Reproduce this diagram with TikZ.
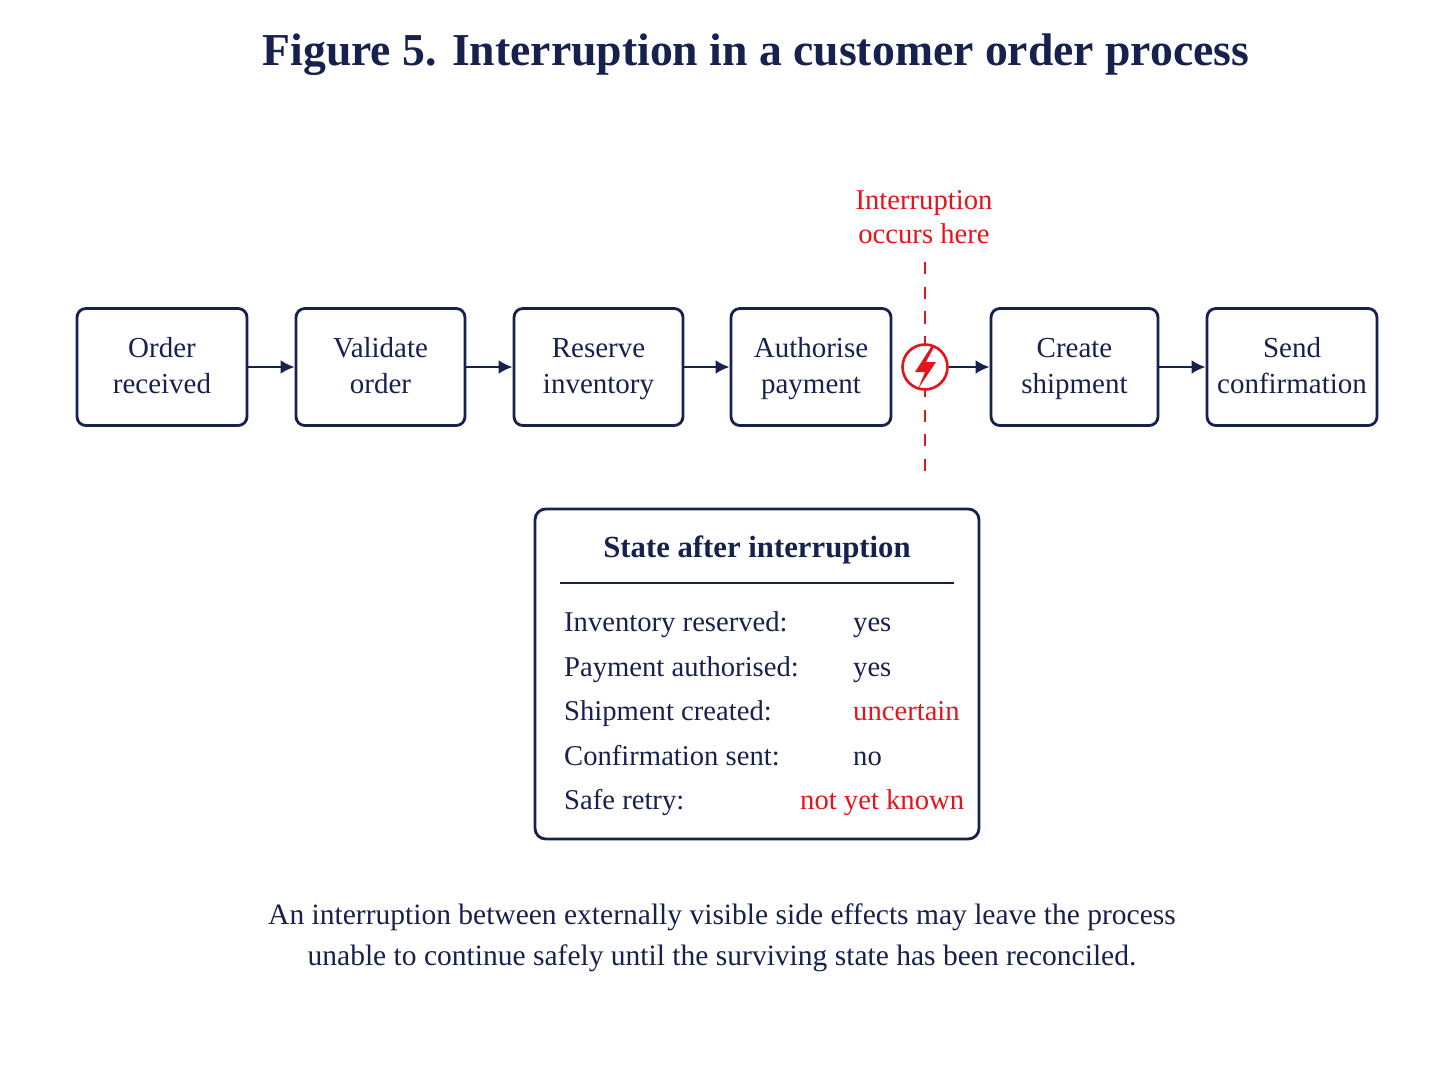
\documentclass[tikz,border=0pt]{standalone}
\usepackage{fontspec}
\setmainfont{Liberation Serif}
\usepackage{xcolor}
\usetikzlibrary{arrows.meta}
\definecolor{navy}{HTML}{16214D}
\definecolor{ired}{HTML}{E3141B}
\begin{document}
\begin{tikzpicture}[x=0.02cm,y=-0.02cm,
  stepbox/.style={draw=navy,line width=1.6pt,rounded corners=5pt,text=navy,align=center,font=\fontsize{16.5}{20.4}\selectfont,inner sep=0pt,minimum height=2.34cm,text depth=0.3ex},
  arr/.style={navy,line width=1.6pt,-{Latex[length=8pt,width=8pt]}},
  lbl/.style={anchor=base west,text=navy,font=\fontsize{16.3}{20}\selectfont},
  val/.style={anchor=base west,font=\fontsize{16.3}{20}\selectfont}]
\useasboundingbox (0,0) rectangle (1448,1086);
\node[text=navy,font=\bfseries\fontsize{26}{30}\selectfont] (title) at (756,55) {Figure 5. Interruption in a customer order process};
\node[stepbox,minimum width=3.4cm] (a) at (162,367) {Order\\received};
\node[stepbox,minimum width=3.38cm] (b) at (380.5,367) {Validate\\order};
\node[stepbox,minimum width=3.38cm] (c) at (598.5,367) {Reserve\\inventory};
\node[stepbox,minimum width=3.2cm] (d) at (811,367) {Authorise\\payment};
\node[stepbox,minimum width=3.34cm] (e) at (1074.5,367) {Create\\shipment};
\node[stepbox,minimum width=3.4cm] (f) at (1292,367) {Send\\confirmation};
\node[text=ired,align=center,font=\fontsize{16.3}{19.3}\selectfont] (int) at (924,217) {Interruption\\occurs here};
\coordinate (dt) at (925,262); \coordinate (db) at (925,472);
\draw[ired,line width=1.2pt,dash pattern=on 7pt off 7pt] (dt) -- (db);
\node[circle,draw=ired,fill=white,line width=1.5pt,minimum size=0.9cm,inner sep=0pt] (bolt) at (925,367) {};
\fill[ired] (931,347) -- (915,372) -- (925,372) -- (918,389) -- (936,362) -- (926,362) -- (934,347) -- cycle;
\draw[arr] (a) -- (b); \draw[arr] (b) -- (c); \draw[arr] (c) -- (d);
\draw[arr] (bolt) -- (e); \draw[arr] (e) -- (f);
\node[draw=navy,line width=1.6pt,rounded corners=6pt,minimum width=8.88cm,minimum height=6.6cm] (state) at (757,674) {};
\node[text=navy,font=\bfseries\fontsize{17.5}{20}\selectfont] (st) at (757,550) {State after interruption};
\coordinate (l1) at (560,583); \coordinate (l2) at (954,583);
\draw[navy,line width=1.3pt] (l1) -- (l2);
\node[lbl] (r1) at (558,631) {Inventory reserved:};
\node[lbl] (r2) at (558,676) {Payment authorised:};
\node[lbl] (r3) at (558,720) {Shipment created:};
\node[lbl] (r4) at (558,765) {Confirmation sent:};
\node[lbl] (r5) at (558,809) {Safe retry:};
\node[val,text=navy] (v1) at (847,631) {yes};
\node[val,text=navy] (v2) at (847,676) {yes};
\node[val,text=ired] (v3) at (847,720) {uncertain};
\node[val,text=navy] (v4) at (847,765) {no};
\node[val,text=ired] (v5) at (794,809) {not yet known};
\node[text=navy,align=center,font=\fontsize{16.8}{23.2}\selectfont] (cap) at (722,938) {An interruption between externally visible side effects may leave the process\\unable to continue safely until the surviving state has been reconciled.};
\end{tikzpicture}
\end{document}
